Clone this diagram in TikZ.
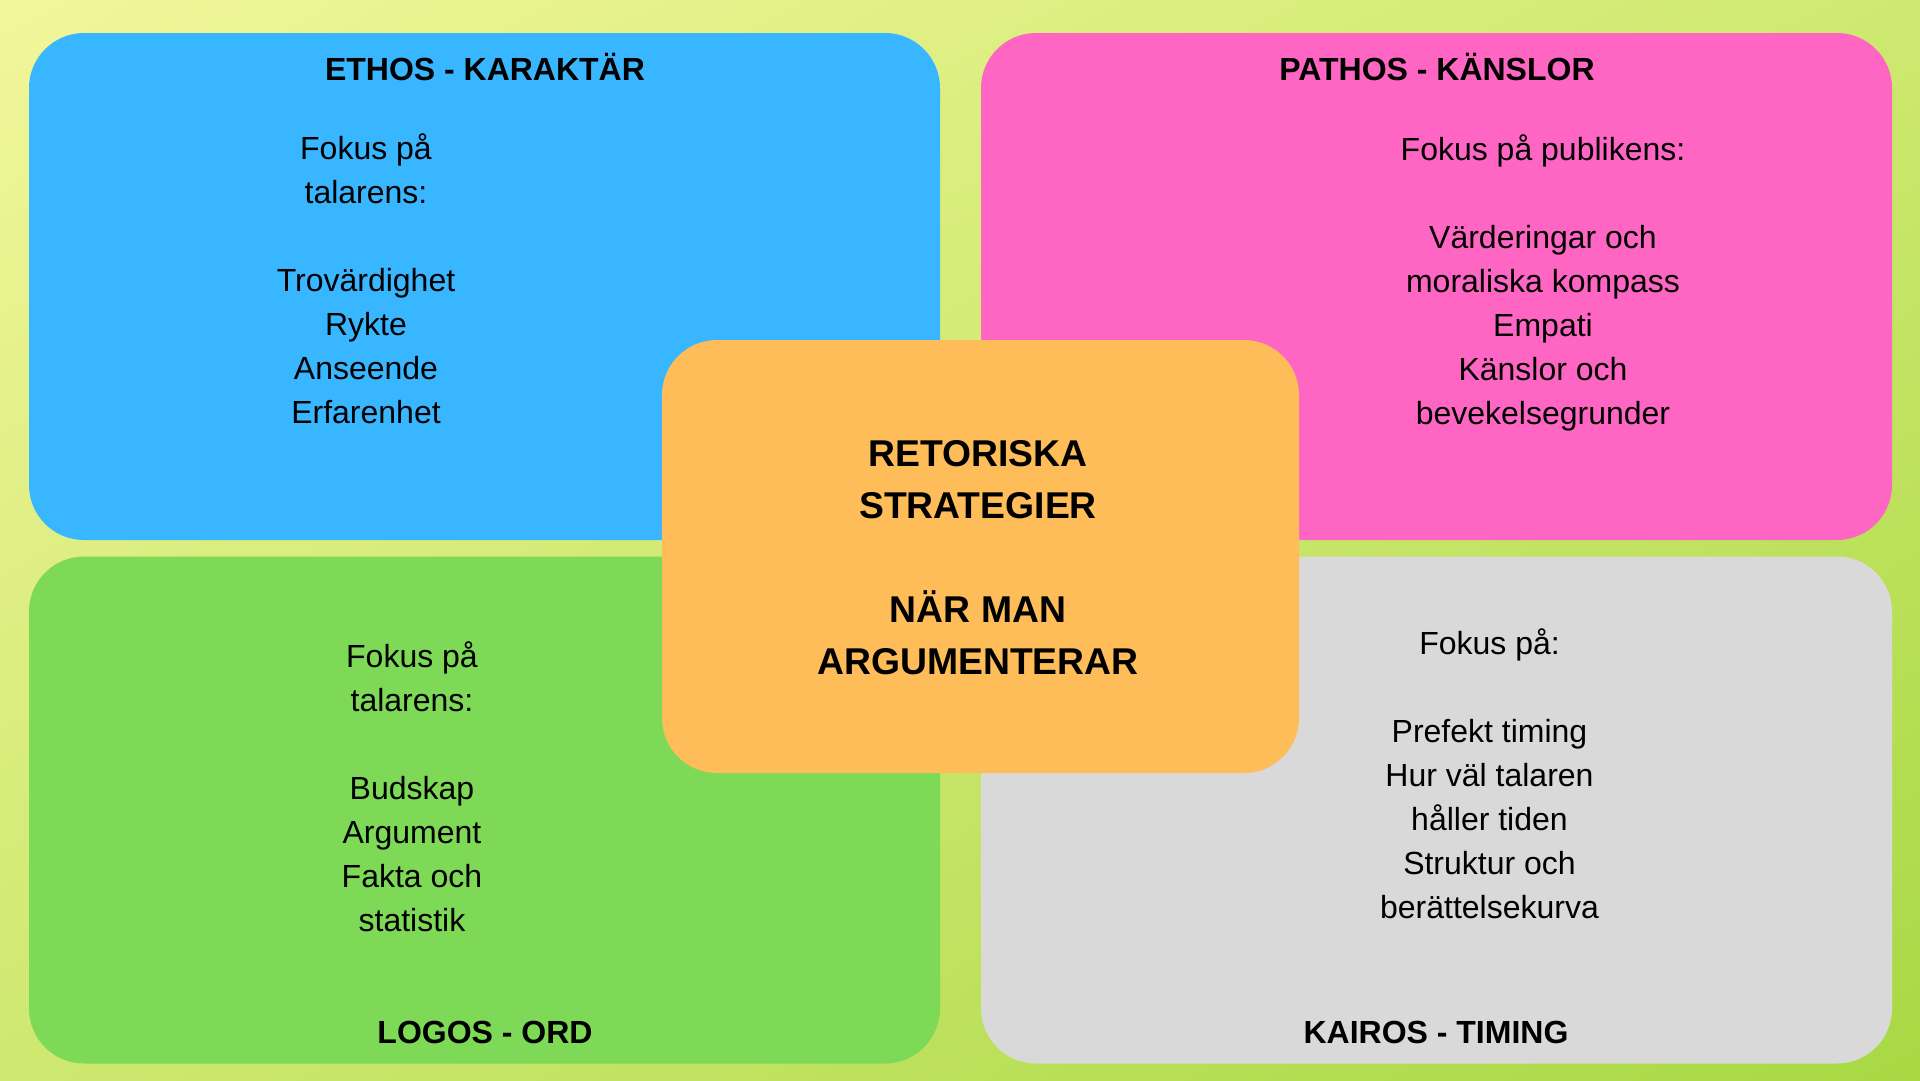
\documentclass[tikz,border=0pt]{standalone}
\usepackage{fontspec}
\setmainfont{Liberation Sans}
\usetikzlibrary{shadings}
\definecolor{bgTL}{RGB}{242,246,154}
\definecolor{bgTR}{RGB}{206,233,112}
\definecolor{bgBL}{RGB}{206,232,112}
\definecolor{bgBR}{RGB}{168,216,68}
\definecolor{ethoscol}{HTML}{38B6FF}
\definecolor{pathoscol}{HTML}{FF66C4}
\definecolor{logoscol}{HTML}{7ED957}
\definecolor{kairoscol}{HTML}{D9D9D9}
\definecolor{midcol}{HTML}{FFBD59}
\tikzset{
  panel/.style={rectangle, rounded corners=55pt, inner sep=0pt, draw=none},
  quad/.style={panel, minimum width=911pt, minimum height=507pt},
  titletext/.style={font=\fontsize{32}{44}\selectfont\bfseries, inner sep=0pt, anchor=center},
  bodytext/.style={font=\fontsize{32}{44}\selectfont, align=center, inner sep=0pt, anchor=center},
  centertext/.style={font=\fontsize{37.3}{52}\selectfont\bfseries, align=center, inner sep=0pt, anchor=center}
}
\begin{document}
\begin{tikzpicture}[x=1pt, y=-1pt]
  \shade[upper left=bgTL, upper right=bgTR, lower left=bgBL, lower right=bgBR] (0,0) rectangle (1920,1080);
  \useasboundingbox (0,0) rectangle (1920,1080);

  \node[quad, fill=ethoscol] (ethos) at (484.5,286.5) {};
  \node[quad, fill=pathoscol] (pathos) at (1436.5,286.5) {};
  \node[quad, fill=logoscol] (logos) at (484.5,810) {};
  \node[quad, fill=kairoscol] (kairos) at (1436.5,810) {};
  \node[panel, fill=midcol, minimum width=637pt, minimum height=433pt] (mid) at (980.5,556.5) {};

  \node[titletext] (ethosT) at (485,66.5) {ETHOS - KARAKTÄR};
  \node[titletext] (pathosT) at (1437,66.5) {PATHOS - KÄNSLOR};
  \node[titletext] (logosT) at (485,1032) {LOGOS - ORD};
  \node[titletext] (kairosT) at (1436,1032) {KAIROS - TIMING};

  \node[bodytext] (ethosB) at (366,279) {Fokus på\\talarens:\\[44pt]Trovärdighet\\Rykte\\Anseende\\Erfarenhet};
  \node[bodytext] (pathosB) at (1543,282.5) {Fokus på publikens:\\[44pt]Värderingar och\\moraliska kompass\\Empati\\Känslor och\\bevekelsegrunder};
  \node[bodytext] (logosB) at (412,786.5) {Fokus på\\talarens:\\[44pt]Budskap\\Argument\\Fakta och\\statistik};
  \node[bodytext] (kairosB) at (1489.5,773.5) {Fokus på:\\[44pt]Prefekt timing\\Hur väl talaren\\håller tiden\\Struktur och\\berättelsekurva};

  \node[centertext] (midT) at (978,558) {RETORISKA\\STRATEGIER\\[52pt]NÄR MAN\\ARGUMENTERAR};
\end{tikzpicture}
\end{document}
